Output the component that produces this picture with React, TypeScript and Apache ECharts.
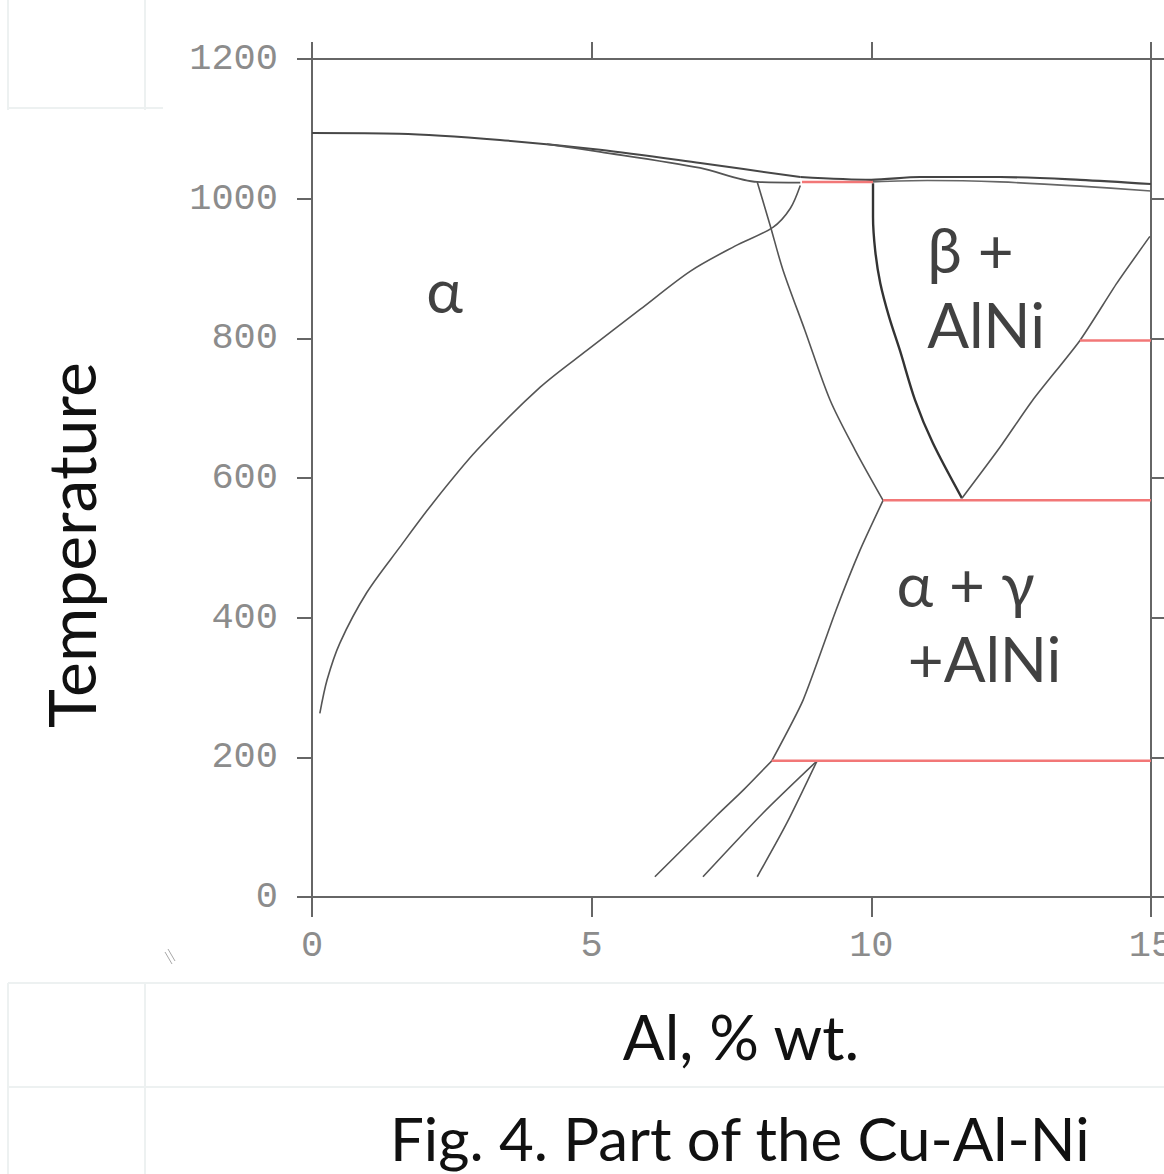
import React, { useEffect, useRef } from "react";
import * as echarts from "echarts";

// ---- data (Al wt.%, temperature °C) ----
const xTicks = [0, 5, 10, 15];
const yTicks = [0, 200, 400, 600, 800, 1000, 1200];

const liquidusLeft = [[0, 1094], [1.56, 1093], [3.36, 1084], [5.15, 1070], [6.94, 1051], [8.73, 1031]];
const solidusLeft = [[4.2, 1078], [5.15, 1067], [6.94, 1044], [7.96, 1024], [8.73, 1023]];
const liquidusRight = [[8.73, 1031], [10, 1027], [10.87, 1031], [12.3, 1031], [13.73, 1027], [15, 1021]];
const solidusRight = [[10.02, 1024], [11, 1026], [12.3, 1024], [13.73, 1018], [15, 1011]];
const alphaSolvus = [[0.14, 263], [0.27, 311], [0.5, 364], [0.98, 436], [1.57, 501], [2.16, 564], [2.95, 640], [4.08, 730], [4.92, 783], [5.86, 841], [6.76, 896], [7.56, 932], [8.24, 959], [8.55, 986], [8.73, 1019]];
const alphaBoundary = [[7.96, 1024], [8.19, 962], [8.42, 898], [8.81, 812], [9.26, 712], [9.71, 640], [10.21, 568]];
const betaBoundary = [[10.03, 1022], [10.03, 974], [10.07, 925], [10.16, 879], [10.32, 830], [10.51, 783], [10.78, 712], [11.1, 650], [11.62, 571]];
const alNiBoundary = [[11.62, 571], [12.3, 644], [12.89, 712], [13.73, 797], [14.39, 879], [14.98, 946]];
const gammaBoundary = [[10.21, 568], [9.8, 497], [9.37, 411], [8.78, 282], [8.22, 195]];
const lowLineA = [[8.22, 195], [7.71, 153], [7.24, 117], [6.13, 29]];
const lowLineB = [[9.03, 195], [8.06, 120], [6.99, 29]];
const lowLineC = [[9.03, 195], [8.49, 106], [7.96, 29]];

const iso1024 = [[8.76, 1024], [10.03, 1024]];
const iso797 = [[13.73, 797], [15, 797]];
const iso568 = [[10.21, 568], [15, 568]];
const iso195 = [[8.22, 195], [15, 195]];

const regionLabels = [
  { name: "α", value: [2.37, 870], align: "center" },
  { name: "β +", value: [11.0, 928], align: "left" },
  { name: "AlNi", value: [11.0, 821], align: "left" },
  { name: "α + γ", value: [10.45, 450], align: "left" },
  { name: "+AlNi", value: [10.65, 342], align: "left" },
];

const AXIS_COLOR = "#666666";
const LABEL_COLOR = "#8c8c8c";
const LINE_COLOR = "#555555";
const RED = "#f27777";
const TEXT_FONT = "Lato, 'Open Sans', sans-serif";

function lineSeries(data: number[][], color: string, width: number, smooth: number | boolean) {
  return {
    type: "line",
    data,
    xAxisIndex: 0,
    yAxisIndex: 0,
    showSymbol: false,
    symbol: "none",
    smooth,
    silent: true,
    lineStyle: { color, width },
    z: 3,
  };
}

export default function App() {
  const ref = useRef<HTMLDivElement>(null);
  useEffect(() => {
    document.body.style.margin = "0";
    if (!ref.current) return;
    const chart = echarts.init(ref.current, null, { renderer: "svg" });
    const axisLine = { show: true, onZero: false, lineStyle: { color: AXIS_COLOR, width: 2 } };
    const tickStyle = { color: AXIS_COLOR, width: 2 };
    const labelStyle = {
      fontFamily: "'Liberation Mono', 'DejaVu Sans Mono', monospace",
      fontSize: 37,
      color: LABEL_COLOR,
      formatter: (v: number) => String(v),
    };
    const faint = "#edf1f1";
    chart.setOption({
      animation: false,
      backgroundColor: "#ffffff",
      grid: { left: 312, right: 13, top: 59, bottom: 277, containLabel: false, outerBoundsMode: "none" },
      xAxis: [
        {
          type: "value", position: "bottom", min: xTicks[0], max: xTicks[xTicks.length - 1], interval: 5,
          axisLine, axisTick: { show: true, inside: false, length: 20, lineStyle: tickStyle },
          axisLabel: { ...labelStyle, margin: 30, showMinLabel: true, showMaxLabel: true },
          splitLine: { show: false },
        },
        {
          type: "value", position: "top", min: xTicks[0], max: xTicks[xTicks.length - 1], interval: 5,
          axisLine, axisTick: { show: true, inside: false, length: 17, lineStyle: tickStyle },
          axisLabel: { show: false }, splitLine: { show: false },
        },
      ],
      yAxis: [
        {
          type: "value", position: "left", min: yTicks[0], max: yTicks[yTicks.length - 1], interval: 200,
          axisLine, axisTick: { show: true, inside: false, length: 15, lineStyle: tickStyle },
          axisLabel: { ...labelStyle, margin: 34, showMinLabel: true, showMaxLabel: true },
          splitLine: { show: false },
        },
        {
          type: "value", position: "right", min: yTicks[0], max: yTicks[yTicks.length - 1], interval: 200,
          axisLine, axisTick: { show: true, inside: false, length: 20, lineStyle: tickStyle },
          axisLabel: { show: false }, splitLine: { show: false },
        },
      ],
      series: [
        lineSeries(liquidusLeft, "#474747", 2, 0.3),
        lineSeries(solidusLeft, "#555555", 1.8, 0.3),
        lineSeries(liquidusRight, "#444444", 2.2, 0.3),
        lineSeries(solidusRight, "#666666", 1.6, 0.3),
        lineSeries(alphaSolvus, LINE_COLOR, 1.6, 0.3),
        lineSeries(alphaBoundary, LINE_COLOR, 1.6, 0.3),
        lineSeries(betaBoundary, "#333333", 2.4, 0.3),
        lineSeries(alNiBoundary, LINE_COLOR, 1.6, 0.2),
        lineSeries(gammaBoundary, LINE_COLOR, 1.6, 0.2),
        lineSeries(lowLineA, LINE_COLOR, 1.6, 0.25),
        lineSeries(lowLineB, LINE_COLOR, 1.6, 0.25),
        lineSeries(lowLineC, LINE_COLOR, 1.6, 0.25),
        lineSeries(iso1024, RED, 2.5, false),
        lineSeries(iso797, RED, 2.5, false),
        lineSeries(iso568, RED, 2.5, false),
        lineSeries(iso195, RED, 2.5, false),
        {
          type: "scatter",
          xAxisIndex: 0,
          yAxisIndex: 0,
          symbolSize: 0,
          silent: true,
          z: 5,
          data: regionLabels.map((l) => ({
            name: l.name,
            value: l.value,
            label: { align: l.align },
          })),
          label: {
            show: true,
            position: "inside",
            formatter: "{b}",
            fontFamily: TEXT_FONT,
            fontSize: 62,
            color: "#111111",
            verticalAlign: "middle",
          },
        },
      ],
      graphic: [
        { type: "line", shape: { x1: 8, y1: 108, x2: 163, y2: 108 }, style: { stroke: faint, lineWidth: 2 }, silent: true },
        { type: "line", shape: { x1: 145, y1: 0, x2: 145, y2: 110 }, style: { stroke: faint, lineWidth: 2 }, silent: true },
        { type: "line", shape: { x1: 8, y1: 0, x2: 8, y2: 110 }, style: { stroke: faint, lineWidth: 2 }, silent: true },
        { type: "line", shape: { x1: 8, y1: 983, x2: 1164, y2: 983 }, style: { stroke: faint, lineWidth: 2 }, silent: true },
        { type: "line", shape: { x1: 8, y1: 1087, x2: 1164, y2: 1087 }, style: { stroke: faint, lineWidth: 2 }, silent: true },
        { type: "line", shape: { x1: 145, y1: 983, x2: 145, y2: 1174 }, style: { stroke: faint, lineWidth: 2 }, silent: true },
        { type: "line", shape: { x1: 8, y1: 983, x2: 8, y2: 1174 }, style: { stroke: faint, lineWidth: 2 }, silent: true },
        { type: "line", shape: { x1: 165, y1: 952, x2: 172, y2: 964 }, style: { stroke: "#a8a8a8", lineWidth: 1 }, silent: true },
        { type: "line", shape: { x1: 168, y1: 949, x2: 175, y2: 961 }, style: { stroke: "#a8a8a8", lineWidth: 1 }, silent: true },
        {
          type: "text", x: 70, y: 545, rotation: Math.PI / 2, silent: true,
          style: { text: "Temperature", fontFamily: TEXT_FONT, fontSize: 66, fill: "#111111", align: "center", verticalAlign: "middle", textAlign: "center", textVerticalAlign: "middle" },
        },
        {
          type: "text", x: 741, y: 1036, silent: true,
          style: { text: "Al, % wt.", fontFamily: TEXT_FONT, fontSize: 62, fill: "#111111", align: "center", verticalAlign: "middle", textAlign: "center", textVerticalAlign: "middle" },
        },
        {
          type: "text", x: 390, y: 1138, silent: true,
          style: { text: "Fig. 4. Part of the Cu-Al-Ni", fontFamily: TEXT_FONT, fontSize: 60, fill: "#111111", align: "left", verticalAlign: "middle", textAlign: "left", textVerticalAlign: "middle" },
        },
      ],
    });
    return () => chart.dispose();
  }, []);
  return <div ref={ref} style={{ width: 1164, height: 1174 }} />;
}
